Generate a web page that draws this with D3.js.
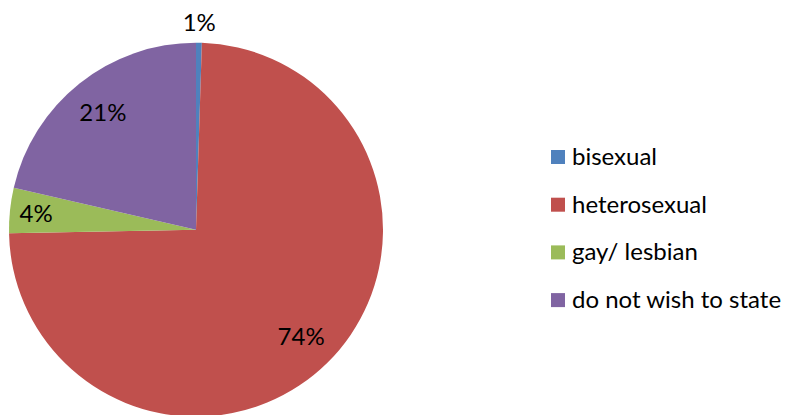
<!DOCTYPE html>
<html>
<head>
<meta charset="utf-8">
<script src="https://cdn.jsdelivr.net/npm/d3@7"></script>
<style>
  html, body { margin: 0; padding: 0; background: #fff; }
  svg { display: block; }
  text { font-family: Lato, "Open Sans", sans-serif; fill: #000; }
</style>
</head>
<body>
<svg id="chart" width="791" height="415"></svg>
<script>
const categories = ["bisexual", "heterosexual", "gay/ lesbian", "do not wish to state"];
const values = [0.5, 74.2, 3.9, 21.4];
const colors = ["#4F81BD", "#C0504D", "#9BBB59", "#8064A2"];
const labels = ["1%", "74%", "4%", "21%"];

const svg = d3.select("#chart");
const cx = 196, cy = 229.7, r = 187;

const pie = d3.pie().sort(null).value(d => d.v);
const data = categories.map((c, i) => ({ c, v: values[i], color: colors[i], label: labels[i] }));
const arcs = pie(data);
const arc = d3.arc().innerRadius(0).outerRadius(r);

const g = svg.append("g").attr("transform", `translate(${cx},${cy})`);
g.selectAll("path").data(arcs).enter().append("path")
  .attr("d", arc)
  .attr("fill", d => d.data.color);

// label placement radii (fraction of radius); tiny slice labelled outside
const labelRadius = [1.11, 0.8, 0.86, 0.8];
g.selectAll("text.lbl").data(arcs).enter().append("text")
  .attr("class", "lbl")
  .attr("text-anchor", "middle")
  .attr("font-size", 24)
  .attr("x", (d, i) => {
    const a = (d.startAngle + d.endAngle) / 2;
    return Math.sin(a) * r * labelRadius[i];
  })
  .attr("y", (d, i) => {
    const a = (d.startAngle + d.endAngle) / 2;
    return -Math.cos(a) * r * labelRadius[i] + 8.5;
  })
  .text(d => d.data.label);

const legend = svg.append("g").attr("transform", "translate(551,150)");
const rowH = 47.7;
const items = legend.selectAll("g").data(data).enter().append("g")
  .attr("transform", (d, i) => `translate(0,${i * rowH})`);
items.append("rect").attr("width", 14).attr("height", 14).attr("fill", d => d.color);
items.append("text").attr("x", 21).attr("y", 15).attr("font-size", 24).text(d => d.c);
</script>
</body>
</html>
